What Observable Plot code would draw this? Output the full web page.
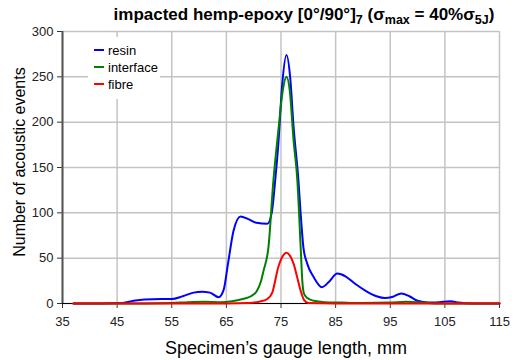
<!DOCTYPE html>
<html><head><meta charset="utf-8">
<script src="https://cdn.jsdelivr.net/npm/d3@7"></script>
<script src="https://cdn.jsdelivr.net/npm/@observablehq/plot@0.6"></script>
<style>body{margin:0;background:#fff;} svg{font-family: Arial, "Liberation Sans", sans-serif;}</style>
</head><body><div id="chart"></div>
<script>
// Data
const resinX = [37, 42, 46, 48, 50, 53, 55, 57, 59, 60.5, 62, 63.6, 64.5, 65.3, 66.3, 67.6, 69, 70.5, 72.5, 73.3, 74.0, 74.5, 75.2, 76, 76.7, 77.3, 78.2, 78.6, 79.1, 79.8, 81, 82.5, 83.8, 85.3, 86.8, 88.5, 90.5, 92.5, 94, 95.5, 97, 98.5, 100, 102, 104, 106, 107.5, 110, 115];
const resinY = [0, 0, 0.5, 3, 4.5, 5, 5, 8, 12, 13, 12, 7, 15, 44, 80, 96, 93, 89, 88, 100, 140, 175, 240, 274, 248, 195, 135, 99, 62, 44, 29, 18, 24, 33, 30, 22, 14, 8, 6, 7.5, 11, 8, 3, 1, 1.5, 2.5, 1, 0, 0];
const interfaceX = [37, 50, 55, 58, 61, 64, 66, 68, 69.5, 70.6, 71.3, 71.8, 72.7, 73.6, 74.5, 75.4, 76, 76.6, 77.3, 78, 78.6, 78.9, 79.2, 79.8, 81, 83, 86, 90, 95, 98, 101, 104, 115];
const interfaceY = [0, 0, 0.5, 1.5, 2, 1.5, 2.5, 5, 8, 14, 24, 36, 62, 135, 190, 238, 250, 235, 180, 135, 62, 25, 11, 6, 3, 1.5, 1, 0.5, 1, 2, 1, 0, 0];
const fibreX = [37, 65, 69, 71, 72.5, 73.4, 74.5, 75.3, 76, 76.6, 77.3, 78, 78.6, 79.2, 80, 85, 115];
const fibreY = [0, 0, 0.5, 2, 5, 12, 40, 52, 56, 53, 44, 28, 14, 4, 0.5, 0, 0];

const xTicks = [35, 45, 55, 65, 75, 85, 95, 105, 115];
const yTicks = [0, 50, 100, 150, 200, 250, 300];
const seriesNames = ["resin", "interface", "fibre"];
const seriesColors = ["#0000ff", "#008000", "#ff0000"];

const seriesXs = [resinX, interfaceX, fibreX];
const seriesYs = [resinY, interfaceY, fibreY];
const rows = [];
seriesNames.forEach((s, i) => seriesXs[i].forEach((x, j) => rows.push({series: s, x, y: seriesYs[i][j]})));

const plot = Plot.plot({
  width: 516, height: 360,
  marginLeft: 62, marginRight: 17, marginTop: 31, marginBottom: 57,
  style: {fontFamily: "Arial, 'Liberation Sans', sans-serif", fontSize: "13px", color: "#222", background: "#fff"},
  x: {domain: [35, 115], label: null},
  y: {domain: [0, 300], label: null},
  color: {domain: seriesNames, range: seriesColors},
  marks: [
    Plot.gridX(xTicks, {stroke: "#c4c4c4", strokeOpacity: 1, strokeWidth: 1.5}),
    Plot.gridY(yTicks, {stroke: "#c4c4c4", strokeOpacity: 1, strokeWidth: 1.5}),
    Plot.axisX(xTicks, {tickSize: 5, tickPadding: 8, label: null, stroke: "#333"}),
    Plot.axisY(yTicks, {tickSize: 5, tickPadding: 4, label: null, stroke: "#333"}),
    Plot.ruleX([35], {stroke: "#555", strokeWidth: 2}),
    Plot.ruleY([0], {stroke: "#000", strokeWidth: 1}),
    Plot.lineY(rows, {x: "x", y: "y", z: "series", stroke: "series", curve: "monotone-x", strokeWidth: 2})
  ]
});
document.getElementById("chart").appendChild(plot);

const svg = d3.select(plot);
// Title with subscripts
const t = svg.append("text").attr("x", 304).attr("y", 20).attr("text-anchor", "middle")
  .attr("font-size", 17).attr("font-weight", "bold").attr("fill", "#000");
t.append("tspan").text("impacted hemp-epoxy [0°/90°]");
t.append("tspan").attr("dy", 4).attr("font-size", 12.5).text("7");
t.append("tspan").attr("dy", -4).text(" (σ");
t.append("tspan").attr("dy", 4).attr("font-size", 12.5).text("max");
t.append("tspan").attr("dy", -4).text(" = 40%σ");
t.append("tspan").attr("dy", 4).attr("font-size", 12.5).text("5J");
t.append("tspan").attr("dy", -4).text(")");

// Axis labels
svg.append("text").attr("transform", "translate(25,162) rotate(-90)").attr("text-anchor", "middle")
  .attr("font-size", 16).attr("fill", "#000").text("Number of acoustic events");
svg.append("text").attr("x", 286).attr("y", 354).attr("text-anchor", "middle")
  .attr("font-size", 18).attr("fill", "#000").text("Specimen\u2019s gauge length, mm");

// Legend
const lg = svg.append("g");
lg.append("rect").attr("x", 88).attr("y", 37).attr("width", 72).attr("height", 62).attr("fill", "#fff");
seriesNames.forEach((s, i) => {
  const yy = 50 + i * 17;
  lg.append("line").attr("x1", 94).attr("x2", 104).attr("y1", yy).attr("y2", yy)
    .attr("stroke", seriesColors[i]).attr("stroke-width", 2);
  lg.append("text").attr("x", 108).attr("y", yy + 4.5).attr("text-anchor", "start")
    .attr("font-size", 13).attr("fill", "#000").text(s);
});
</script></body></html>
